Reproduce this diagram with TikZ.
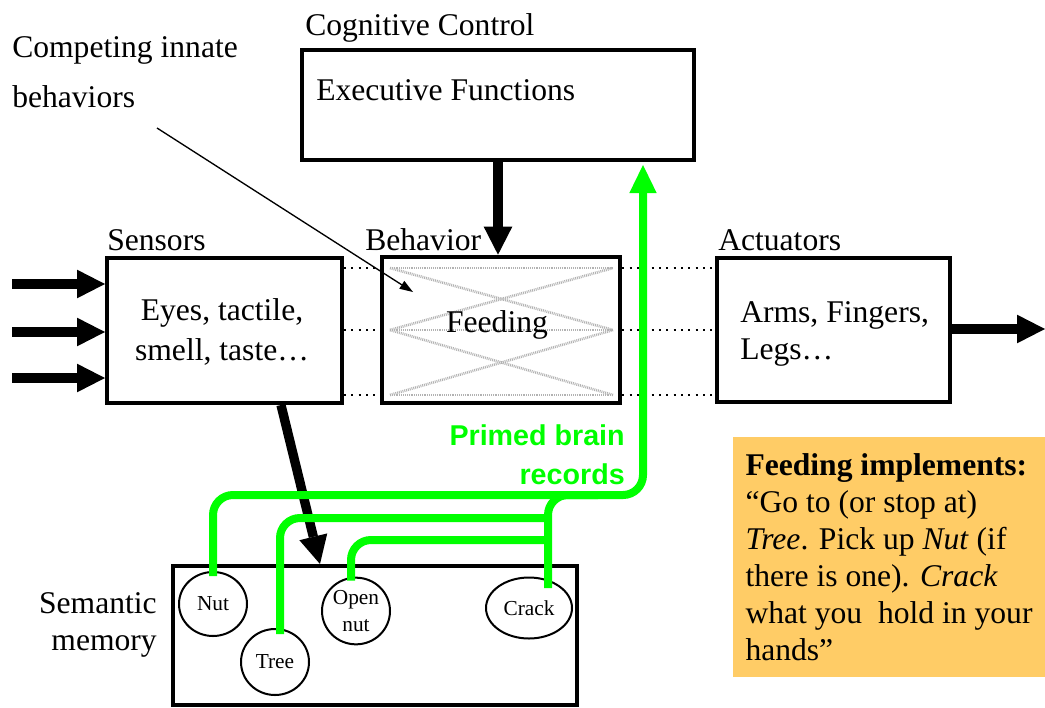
\documentclass[tikz,border=0pt]{standalone}
\usepackage{fontspec}
\setmainfont{Liberation Serif}
\newfontfamily\labelsans{Liberation Sans}
\usetikzlibrary{arrows.meta,calc,shapes.geometric}
\definecolor{primegreen}{RGB}{0,255,0}
\definecolor{notefill}{RGB}{255,204,102}

\begin{document}
\begin{tikzpicture}[x=0.75pt,y=-0.75pt,
  txt/.style={font=\fontsize{23.7}{28}\selectfont, inner sep=0pt},
  box/.style={draw, line width=3pt, inner sep=0pt},
  bigarrow/.style={line width=7pt, -{Triangle[length=21pt,width=21.5pt,line width=0pt]}},
  thinarrow/.style={line width=1pt, -{Triangle[length=10pt,width=7pt,line width=0pt]}},
  greenpath/.style={draw=primegreen, line width=6pt, rounded corners=15pt},
  dotline/.style={line width=1.5pt, dash pattern=on 1.5pt off 4pt},
  hatch/.style={black!30, line width=2pt, dash pattern=on 0.7pt off 0.7pt},
  memnode/.style={ellipse, draw, line width=1.5pt, inner sep=0pt,
    font=\fontsize{16}{20}\selectfont, align=center},
]
\useasboundingbox (0,0) rectangle (1045,707);

% dotted links running between the three stages
\foreach \yy [count=\i] in {268,330,395} {
  \coordinate (lv\i) at (0,\yy);
}

% main stage boxes
\node[box, minimum width=294pt, minimum height=82.5pt] (exec) at (498,105) {};
\node[box, minimum width=176.25pt, minimum height=108.75pt] (sensors) at (224.5,330.5) {};
\node[box, line width=3.5pt, minimum width=178.5pt, minimum height=109.5pt] (behavior) at (501,330) {};
\node[box, minimum width=174.75pt, minimum height=108pt] (actuators) at (833.5,330) {};
\node[box, minimum width=303pt, minimum height=104.25pt] (memory) at (375,635.5) {};

\foreach \i in {1,2,3} {
  \draw[dotline] (sensors.east |- lv\i) -- (behavior.west |- lv\i);
  \draw[dotline] (behavior.east |- lv\i) -- (actuators.west |- lv\i);
}

% faint criss-cross texture of the behaviour box
\draw[hatch] (390,268) -- (613,268) (390,330) -- (613,330) (390,395) -- (613,395);
\draw[hatch] (390,268) -- (613,330) (390,330) -- (613,268);
\draw[hatch] (390,330) -- (613,395) (390,395) -- (613,330);

% box titles and contents
\node[txt, anchor=base west] (cogtitle) at (305,35) {Cognitive Control};
\node[txt, anchor=base west] (exectext) at (316,100) {Executive Functions};
\node[txt, anchor=base west, align=left, font=\fontsize{23.7}{37}\selectfont] (competing) at (12,107) {Competing innate\\behaviors};
\node[txt, anchor=base west] (senstitle) at (107,250) {Sensors};
\node[txt, anchor=base west] (behtitle) at (365,250) {Behavior};
\node[txt, anchor=base west] (acttitle) at (718,250) {Actuators};
\node[txt, align=center, font=\fontsize{23.7}{30}\selectfont] (senstext) at (222,332) {Eyes, tactile,\\smell, taste\dots};
\node[txt] (behtext) at (497,325) {Feeding};
\node[txt, anchor=west, align=left, font=\fontsize{23.7}{28}\selectfont] (acttext) at (740,334) {Arms, Fingers,\\Legs\dots};
\node[txt, anchor=east, align=right, font=\fontsize{23.7}{28}\selectfont] (memtitle) at (157,625) {Semantic\\memory};

% concepts held in semantic memory
\node[memnode, minimum width=51pt, minimum height=48pt] (nut) at (213,604) {Nut};
\node[memnode, minimum width=51pt, minimum height=49.5pt] (tree) at (275,662) {Tree};
\node[memnode, minimum width=51pt, minimum height=50pt] (open) at (356,611) {Open\\nut};
\node[memnode, minimum width=64.5pt, minimum height=45.75pt] (crack) at (529,608) {Crack};

% note on what feeding does
\node[fill=notefill, minimum width=234pt, minimum height=180pt, inner sep=0pt,
      align=left, font=\fontsize{23.7}{27.75}\selectfont] (note) at (889,557)
  {\textbf{Feeding implements:}\\“Go to (or stop at)\\\textit{Tree}. Pick up \textit{Nut} (if\\there is one). \textit{Crack}\\what you\ \ hold in your\\hands”};

\node[anchor=east, align=right, inner sep=0pt, text=primegreen,
      font=\labelsans\bfseries\fontsize{21.5}{29}\selectfont] (primed) at (625,455) {Primed brain\\records};

% sensory input and motor output
\coordinate (in1) at (12,284);
\coordinate (in2) at (12,332);
\coordinate (in3) at (12,378);
\coordinate (out) at (1045,329);
\foreach \i in {1,2,3} {
  \draw[bigarrow] (in\i) -- (in\i -| sensors.west);
}
\draw[bigarrow] (actuators.east |- out) -- (out);

% control and memory flows
\draw[bigarrow] (exec.south) -- (exec.south |- behavior.north);
\draw[bigarrow] ($(sensors.south west)+(176,0)$) -- ($(memory.north west)+(149,0)$);

% pointer to the competing behaviours
\coordinate (cstart) at (157,128);
\coordinate (ctip) at (413,292);
\draw[thinarrow] (cstart) -- (ctip);

% primed records rising from semantic memory
\coordinate (gtop) at (643,165);
\coordinate (gbus) at (643,495);
\coordinate (gjoin) at (548,495);
\draw[greenpath, -{Triangle[length=21pt,width=20.5pt,line width=0pt]}]
  ($(nut.north)+(0,5)$) |- (gbus) -- (gtop);
\draw[greenpath] ($(crack.center)+(19,-20)$) |- ($(gjoin)+(50,0)$);
\draw[greenpath] ($(tree.north)+(5,6)$) |- ($(gjoin)+(0,23)$);
\draw[greenpath] ($(open.north)+(-5,4)$) |- ($(gjoin)+(0,45)$);
\end{tikzpicture}
\end{document}
